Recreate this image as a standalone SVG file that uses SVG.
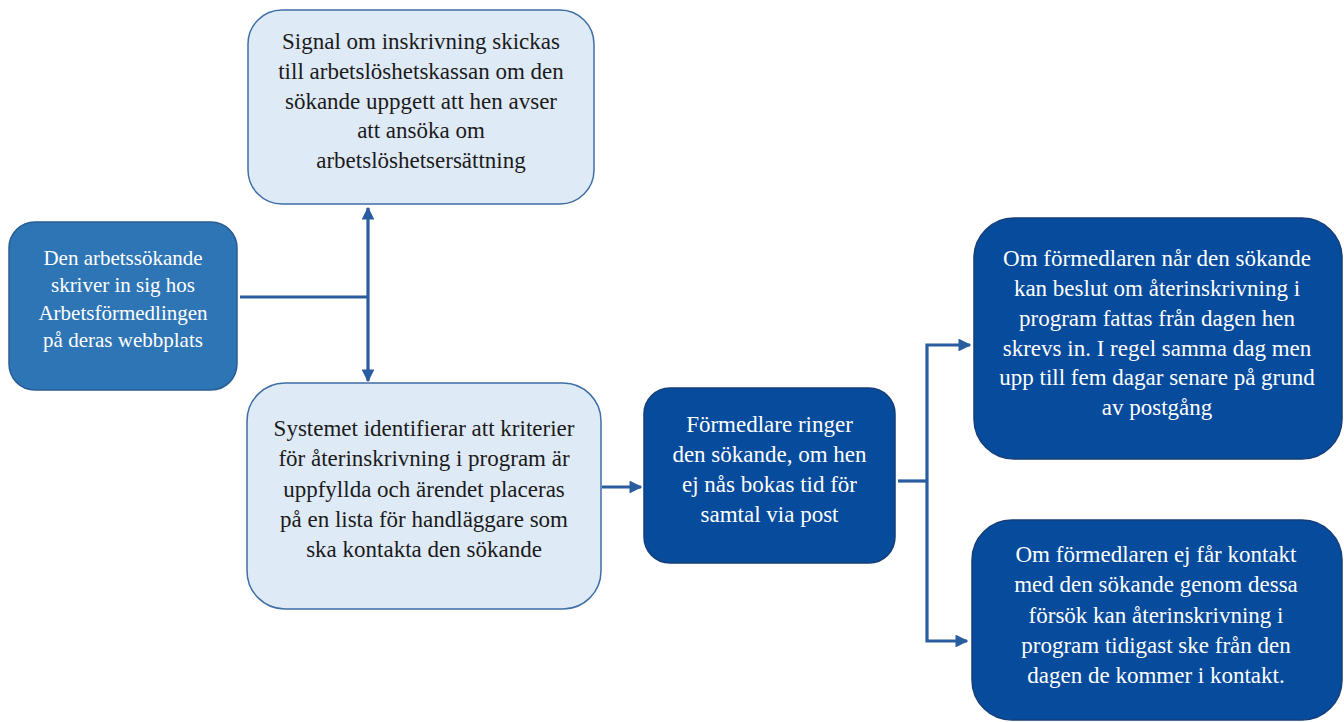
<svg xmlns="http://www.w3.org/2000/svg" width="1344" height="722" viewBox="0 0 1344 722">
<style>
.light{fill:#DEEAF6;stroke:#3E6EA6;stroke-width:1.5}
.mid{fill:#2E75B6;stroke:#2A5C94;stroke-width:1.5}
.dark{fill:#064B9C;stroke:#163E78;stroke-width:1.5}
.tl{fill:#1B1B1B}
.tw{fill:#FFFFFF}
.c{fill:none;stroke:#2A5DA0;stroke-width:3.2}
</style>
<defs>
<marker id="ah" viewBox="0 0 10 10" refX="9" refY="5" markerWidth="4" markerHeight="4" orient="auto-start-reverse" markerUnits="strokeWidth">
<path d="M0,0 L10,5 L0,10 z" fill="#2A5DA0"/>
</marker>
</defs>
<rect width="1344" height="722" fill="#FFFFFF"/>
<g id="connectors">
<line class="c" x1="240" y1="297" x2="368" y2="297"/>
<line class="c" x1="368" y1="208" x2="368" y2="381" marker-start="url(#ah)" marker-end="url(#ah)"/>
<line class="c" x1="602" y1="487" x2="641" y2="487" marker-end="url(#ah)"/>
<line class="c" x1="898" y1="481" x2="927" y2="481"/>
<polyline class="c" points="970,345 927,345 927,641 967,641" marker-start="url(#ah)" marker-end="url(#ah)"/>
</g>
<g font-family="'Liberation Serif', 'Times New Roman', serif" font-size="23" text-anchor="middle">
<g id="n1">
<rect class="mid" x="9" y="222" width="228" height="168" rx="26"/>
<text class="tw" font-size="21"><tspan x="123" y="265">Den arbetssökande</tspan><tspan x="123" y="292">skriver in sig hos</tspan><tspan x="123" y="320">Arbetsförmedlingen</tspan><tspan x="123" y="347">på deras webbplats</tspan></text>
</g>
<g id="n2">
<rect class="light" x="248" y="10" width="346" height="194" rx="34"/>
<text class="tl"><tspan x="421" y="49">Signal om inskrivning skickas</tspan><tspan x="421" y="79">till arbetslöshetskassan om den</tspan><tspan x="421" y="109">sökande uppgett att hen avser</tspan><tspan x="421" y="138">att ansöka om</tspan><tspan x="421" y="168">arbetslöshetsersättning</tspan></text>
</g>
<g id="n3">
<rect class="light" x="247" y="383" width="354" height="226" rx="38"/>
<text class="tl"><tspan x="424" y="436">Systemet identifierar att kriterier</tspan><tspan x="424" y="466">för återinskrivning i program är</tspan><tspan x="424" y="496.5">uppfyllda och ärendet placeras</tspan><tspan x="424" y="527">på en lista för handläggare som</tspan><tspan x="424" y="557">ska kontakta den sökande</tspan></text>
</g>
<g id="n4">
<rect class="dark" x="644" y="388" width="251" height="175" rx="26"/>
<text class="tw"><tspan x="769.5" y="432">Förmedlare ringer</tspan><tspan x="769.5" y="462">den sökande, om hen</tspan><tspan x="769.5" y="492">ej nås bokas tid för</tspan><tspan x="769.5" y="522">samtal via post</tspan></text>
</g>
<g id="n5">
<rect class="dark" x="974" y="218" width="368" height="241" rx="40"/>
<text class="tw"><tspan x="1157" y="266">Om förmedlaren når den sökande</tspan><tspan x="1157" y="296">kan beslut om återinskrivning i</tspan><tspan x="1157" y="326">program fattas från dagen hen</tspan><tspan x="1157" y="355.5">skrevs in. I regel samma dag men</tspan><tspan x="1157" y="385">upp till fem dagar senare på grund</tspan><tspan x="1157" y="415">av postgång</tspan></text>
</g>
<g id="n6">
<rect class="dark" x="972" y="520" width="370" height="200" rx="40"/>
<text class="tw"><tspan x="1156" y="562">Om förmedlaren ej får kontakt</tspan><tspan x="1156" y="592">med den sökande genom dessa</tspan><tspan x="1156" y="622.5">försök kan återinskrivning i</tspan><tspan x="1156" y="653">program tidigast ske från den</tspan><tspan x="1156" y="683">dagen de kommer i kontakt.</tspan></text>
</g>
</g>
</svg>
